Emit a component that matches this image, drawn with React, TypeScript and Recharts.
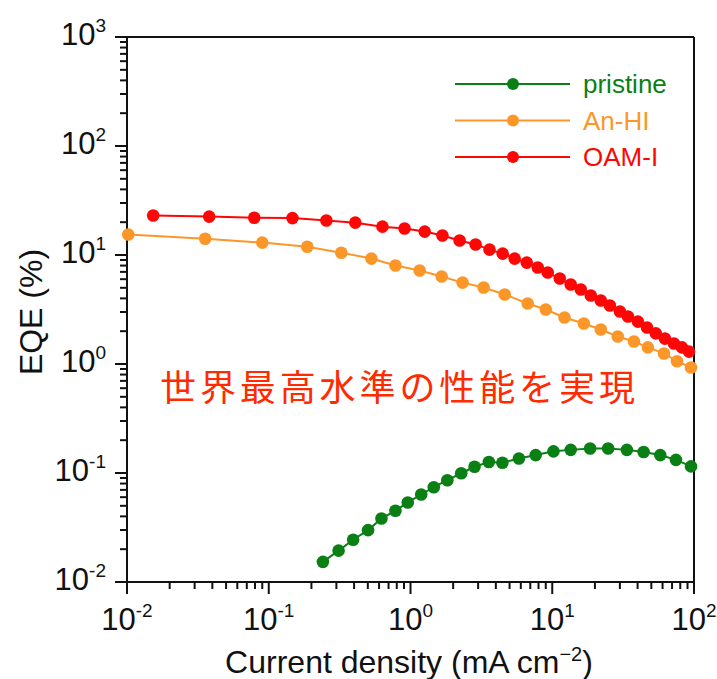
import { LineChart, Line, XAxis, YAxis, ReferenceLine } from 'recharts'

// current density (mA cm-2) and EQE (%)
const pristineJ = [0.241, 0.311, 0.394, 0.502, 0.624, 0.783, 0.957, 1.19, 1.46, 1.82, 2.28, 2.83, 3.57, 4.45, 5.82, 7.64, 10.2, 13.5, 18.5, 24.8, 33.6, 44.1, 57.8, 74.6, 95.3]
const pristineEQE = [0.0153, 0.0194, 0.0244, 0.0299, 0.0383, 0.045, 0.0537, 0.0635, 0.0741, 0.0859, 0.0995, 0.114, 0.126, 0.124, 0.136, 0.146, 0.158, 0.163, 0.168, 0.168, 0.163, 0.156, 0.146, 0.132, 0.115]

const anhiJ = [0.0102, 0.0356, 0.09, 0.187, 0.325, 0.53, 0.783, 1.16, 1.66, 2.33, 3.28, 4.62, 6.71, 9.0, 12.2, 16.7, 22.0, 29.0, 37.7, 47.3, 61.4, 75.9, 95.3]
const anhiEQE = [15.4, 14.1, 13.0, 11.9, 10.5, 9.27, 8.0, 7.2, 6.34, 5.58, 5.03, 4.34, 3.59, 3.16, 2.67, 2.35, 2.07, 1.79, 1.61, 1.42, 1.25, 1.06, 0.93]

const oamJ = [0.0153, 0.038, 0.079, 0.147, 0.255, 0.408, 0.634, 0.908, 1.26, 1.68, 2.22, 2.88, 3.61, 4.47, 5.43, 6.61, 7.9, 9.29, 11.3, 13.5, 15.9, 18.7, 22.0, 25.5, 30.0, 34.2, 40.2, 46.6, 53.8, 62.4, 72.2, 82.2, 92.2]
const oamEQE = [23.0, 22.5, 22.0, 21.8, 20.7, 19.8, 18.2, 17.5, 16.4, 15.1, 13.6, 12.5, 11.2, 10.3, 9.27, 8.52, 7.67, 6.9, 6.08, 5.36, 4.82, 4.25, 3.82, 3.44, 3.03, 2.73, 2.45, 2.16, 1.91, 1.71, 1.54, 1.42, 1.3]

const xMajor = [0.01, 0.1, 1, 10, 100]
const xExp = ['-2', '-1', '0', '1', '2']
const yMajor = [0.01, 0.1, 1, 10, 100, 1000]
const yExp = ['-2', '-1', '0', '1', '2', '3']

const GREEN = '#0a7f14'
const ORANGE = '#fb9729'
const RED = '#fe0606'
const INK = '#111'
const FONT = '"Liberation Sans", Arial, Helvetica, sans-serif'

const toPoints = (xs: number[], ys: number[]) => xs.map((x, i) => ({ x, y: ys[i] }))
const pristine = toPoints(pristineJ, pristineEQE)
const anhi = toPoints(anhiJ, anhiEQE)
const oam = toPoints(oamJ, oamEQE)

// 2..9 in each decade, for the short ticks
function minorsOf(major: number[]) {
  const out: number[] = []
  for (let i = 0; i < major.length - 1; i++)
    for (let k = 2; k <= 9; k++) out.push(+(major[i] * k).toPrecision(3))
  return out
}

const majorIndex = (list: number[], v: number) => list.findIndex((m) => Math.abs(v - m) / m < 1e-6)

// x, y here are where the tick line ends (tickSize 12, tickMargin 0)
const XTick = (props: any) => {
  const { x, y, payload } = props
  const idx = majorIndex(xMajor, payload.value)
  if (idx < 0) return null
  return (
    <text x={x} y={y + 34} textAnchor="middle" fontSize={31} fill={INK} fontFamily={FONT}>
      10<tspan dy={-13} fontSize={19}>{xExp[idx]}</tspan>
    </text>
  )
}

const YTick = (props: any) => {
  const { x, y, payload } = props
  const idx = majorIndex(yMajor, payload.value)
  if (idx < 0) return null
  return (
    <text x={x - 7} y={y + 8} textAnchor="end" fontSize={31} fill={INK} fontFamily={FONT}>
      10<tspan dy={-13} fontSize={19}>{yExp[idx]}</tspan>
    </text>
  )
}

// short minor marks hung below / left of the frame
const xMark = (p: any) => {
  const b = Math.max(p.y1, p.y2)
  return <line x1={p.x1} x2={p.x1} y1={b} y2={b + 7} stroke={INK} strokeWidth={2} />
}
const yMark = (p: any) => {
  const l = Math.min(p.x1, p.x2)
  return <line x1={l - 7} x2={l} y1={p.y1} y2={p.y1} stroke={INK} strokeWidth={2} />
}

const legendItems = [
  { name: 'pristine', color: GREEN },
  { name: 'An-HI', color: ORANGE },
  { name: 'OAM-I', color: RED },
]

const tickStroke = { stroke: INK, strokeWidth: 2 }
const axisStroke = { stroke: INK, strokeWidth: 2 }

export default function App() {
  return (
    <div style={{ position: 'absolute', left: 0, top: 0, width: 717, height: 679 }}>
      <LineChart width={717} height={679} margin={{ top: 37, right: 23, left: 0, bottom: 0 }}>
        <XAxis
          type="number"
          dataKey="x"
          scale="log"
          domain={[0.01, 100]}
          ticks={xMajor}
          interval={0}
          tick={<XTick />}
          tickLine={tickStroke}
          tickSize={12}
          axisLine={axisStroke}
          height={97}
        />
        <YAxis
          type="number"
          dataKey="y"
          scale="log"
          domain={[0.01, 1000]}
          ticks={yMajor}
          interval={0}
          tick={<YTick />}
          tickLine={tickStroke}
          tickSize={12}
          axisLine={axisStroke}
          width={127}
        />
        {minorsOf(xMajor).map((v) => (
          <ReferenceLine key={'xm' + v} x={v} ifOverflow="visible" shape={xMark} />
        ))}
        {minorsOf(yMajor).map((v) => (
          <ReferenceLine key={'ym' + v} y={v} ifOverflow="visible" shape={yMark} />
        ))}
        <ReferenceLine x={100} stroke={INK} strokeWidth={2} />
        <ReferenceLine y={1000} stroke={INK} strokeWidth={2} />
        <Line data={pristine} dataKey="y" name="pristine" type="linear" stroke={GREEN} strokeWidth={2}
          dot={{ r: 6.3, fill: GREEN, stroke: 'none' }} isAnimationActive={false} />
        <Line data={anhi} dataKey="y" name="An-HI" type="linear" stroke={ORANGE} strokeWidth={2}
          dot={{ r: 6.3, fill: ORANGE, stroke: 'none' }} isAnimationActive={false} />
        <Line data={oam} dataKey="y" name="OAM-I" type="linear" stroke={RED} strokeWidth={2}
          dot={{ r: 6.3, fill: RED, stroke: 'none' }} isAnimationActive={false} />
      </LineChart>
      <svg width={250} height={110} style={{ position: 'absolute', left: 450, top: 65 }}>
        {legendItems.map((it, i) => {
          const cy = 19 + i * 36.5
          return (
            <g key={it.name}>
              <line x1={5} x2={120} y1={cy} y2={cy} stroke={it.color} strokeWidth={2} />
              <circle cx={63} cy={cy} r={6} fill={it.color} />
              <text x={133} y={cy + 9} fontSize={26} fill={it.color} fontFamily={FONT}>
                {it.name}
              </text>
            </g>
          )
        })}
      </svg>
      <div style={{ position: 'absolute', left: 31, top: 312, transform: 'translate(-50%, -50%) rotate(-90deg)', whiteSpace: 'nowrap', fontSize: 32, fontFamily: FONT, color: INK }}>
        EQE (%)
      </div>
      <div style={{ position: 'absolute', left: 409, top: 662, transform: 'translate(-50%, -50%)', whiteSpace: 'nowrap', fontSize: 32, lineHeight: 1.2, fontFamily: FONT, color: INK }}>
        Current density (mA cm<sup style={{ fontSize: 20, lineHeight: 0 }}>−2</sup>)
      </div>
      <div style={{ position: 'absolute', left: 160, top: 366, whiteSpace: 'nowrap', fontSize: 36, lineHeight: 1.1, letterSpacing: 3.9, fontFamily: '"Noto Sans CJK JP", sans-serif', color: '#ff2a00' }}>
        世界最高水準の性能を実現
      </div>
    </div>
  )
}
